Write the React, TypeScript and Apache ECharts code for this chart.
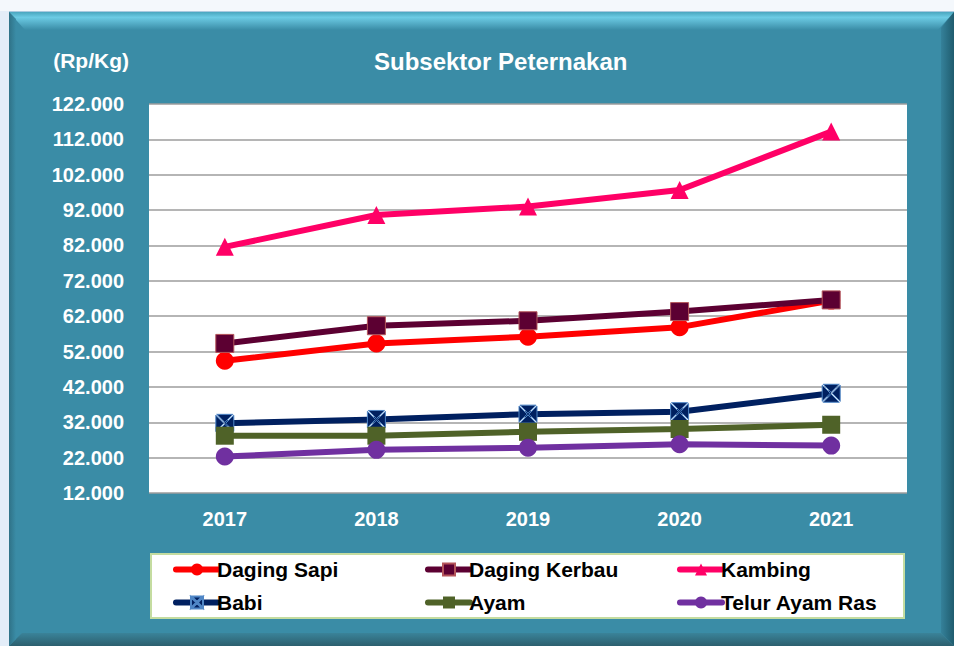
import React, { useEffect, useRef } from "react";
import * as echarts from "echarts";

const years = ["2017", "2018", "2019", "2020", "2021"];
const dagingSapi = [49400, 54300, 56200, 58900, 66400];
const dagingKerbau = [54300, 59300, 60700, 63300, 66600];
const kambing = [81600, 90600, 93000, 97700, 114200];
const babi = [31700, 32800, 34300, 35000, 40200];
const ayam = [28200, 28200, 29300, 30100, 31300];
const telurAyamRas = [22300, 24200, 24800, 25800, 25400];

const yMin = 12000;
const yMax = 122000;
const yStep = 10000;

const TEAL = "#3a8ca6";
const FONT = "'Liberation Sans', Arial, sans-serif";

const babiSymbol =
  "path://M1,0 L19,0 L10,9 Z M20,1 L20,19 L11,10 Z M19,20 L1,20 L10,11 Z M0,19 L0,1 L9,10 Z";

function fmt(v: number): string {
  return String(Math.round(v)).replace(/\B(?=(\d{3})+(?!\d))/g, ".");
}

export default function App() {
  const ref = useRef<HTMLDivElement>(null);
  useEffect(() => {
    if (!ref.current) return;
    const chart = echarts.init(ref.current, undefined, { renderer: "svg" });
    const mk = (
      name: string,
      data: number[],
      color: string,
      symbol: string,
      border?: string
    ) => ({
      name,
      type: "line",
      data,
      symbol,
      symbolSize: 18,
      lineStyle: { color, width: 6 },
      itemStyle: border
        ? { color, borderColor: border, borderWidth: 1 }
        : { color, borderWidth: 0 },
      emphasis: { disabled: true },
    });
    const bg = (el: any) => ({ ...el, z: -100, silent: true });
    chart.setOption({
      animation: false,
      backgroundColor: "#ffffff",
      textStyle: { fontFamily: FONT },
      graphic: [
        bg({ type: "rect", shape: { x: 0, y: 0, width: 10, height: 646 }, style: { fill: "#e3edf8" } }),
        bg({ type: "rect", shape: { x: 0, y: 0, width: 954, height: 11 }, style: { fill: "#f4f8fc" } }),
        bg({ type: "rect", shape: { x: 9, y: 11, width: 945, height: 1 }, style: { fill: "#a9c9df" } }),
        bg({ type: "rect", shape: { x: 9, y: 12, width: 945, height: 634 }, style: { fill: TEAL } }),
        bg({
          type: "polygon",
          shape: { points: [[9, 12], [954, 12], [938, 30], [25, 30]] },
          style: {
            fill: new echarts.graphic.LinearGradient(0, 0, 0, 1, [
              { offset: 0, color: "#4aa6bf" },
              { offset: 0.3, color: "#6ccbe4" },
              { offset: 1, color: TEAL },
            ]),
          },
        }),
        bg({
          type: "polygon",
          shape: { points: [[954, 12], [954, 646], [941, 633], [941, 28]] },
          style: {
            fill: new echarts.graphic.LinearGradient(0, 0, 1, 0, [
              { offset: 0, color: "#35819a" },
              { offset: 1, color: "#1f5c6e" },
            ]),
          },
        }),
        bg({
          type: "polygon",
          shape: { points: [[9, 646], [954, 646], [941, 633], [22, 633]] },
          style: {
            fill: new echarts.graphic.LinearGradient(0, 0, 0, 1, [
              { offset: 0, color: "#3a8399" },
              { offset: 1, color: "#2c5f6e" },
            ]),
          },
        }),
        bg({
          type: "polygon",
          shape: { points: [[9, 12], [16, 19], [16, 639], [9, 646]] },
          style: {
            fill: new echarts.graphic.LinearGradient(0, 0, 1, 0, [
              { offset: 0, color: "#2f7287" },
              { offset: 1, color: TEAL },
            ]),
          },
        }),
        bg({
          type: "rect",
          shape: { x: 151, y: 554, width: 753, height: 64 },
          style: { fill: "#ffffff", stroke: "#c4dca0", lineWidth: 2 },
        }),
      ],
      title: {
        text: "Subsektor Peternakan",
        left: 369,
        top: 44,
        textStyle: { color: "#ffffff", fontSize: 24, fontWeight: "bold", fontFamily: FONT },
      },
      grid: {
        left: 149,
        top: 104,
        right: 47,
        bottom: 153,
        show: true,
        backgroundColor: "#ffffff",
        borderWidth: 0,
      },
      legend: {
        left: 173,
        top: 557,
        width: 760,
        itemWidth: 42,
        itemHeight: 15,
        itemGap: 8,
        padding: 0,
        selectedMode: false,
        lineStyle: { width: 6, cap: "round" },
        textStyle: {
          color: "#000000",
          fontSize: 21,
          fontWeight: "bold",
          fontFamily: FONT,
          width: 200,
          lineHeight: 25,
          padding: [0, 0, 0, -6],
        },
        data: ["Daging Sapi", "Daging Kerbau", "Kambing", "Babi", "Ayam", "Telur Ayam Ras"],
      },
      xAxis: {
        type: "category",
        data: years,
        boundaryGap: true,
        axisLine: { show: false },
        axisTick: { show: false },
        axisLabel: {
          color: "#ffffff",
          fontSize: 20,
          fontWeight: "bold",
          fontFamily: FONT,
          margin: 16,
        },
      },
      yAxis: {
        type: "value",
        min: yMin,
        max: yMax,
        interval: yStep,
        name: "(Rp/Kg)",
        nameLocation: "end",
        nameGap: 33,
        nameTextStyle: {
          color: "#ffffff",
          fontSize: 21,
          fontWeight: "bold",
          fontFamily: FONT,
          align: "right",
          padding: [0, 20, 0, 0],
        },
        axisLine: { show: false },
        axisTick: { show: false },
        splitLine: { show: true, lineStyle: { color: "#9c9c9c", width: 1.5 } },
        axisLabel: {
          color: "#ffffff",
          fontSize: 20,
          fontWeight: "bold",
          fontFamily: FONT,
          margin: 25,
          formatter: (v: number) => fmt(v),
        },
      },
      series: [
        mk("Daging Sapi", dagingSapi, "#ff0000", "circle"),
        mk("Daging Kerbau", dagingKerbau, "#5c0032", "rect", "#b5555a"),
        mk("Kambing", kambing, "#ff0066", "triangle"),
        mk("Babi", babi, "#002060", babiSymbol, "#4f86c6"),
        mk("Ayam", ayam, "#4f6228", "rect"),
        mk("Telur Ayam Ras", telurAyamRas, "#7030a0", "circle"),
      ],
    });
    return () => chart.dispose();
  }, []);
  return (
    <div
      ref={ref}
      style={{ position: "fixed", left: 0, top: 0, width: 954, height: 646 }}
    />
  );
}
